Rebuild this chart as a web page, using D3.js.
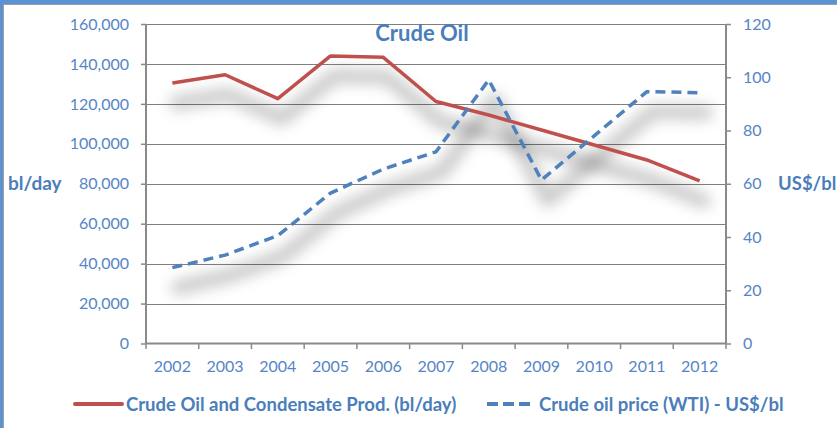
<!DOCTYPE html>
<html>
<head>
<meta charset="utf-8">
<script src="https://cdn.jsdelivr.net/npm/d3@7"></script>
<style>
  body { margin: 0; background: #fff; }
  svg text { font-family: Lato, "Open Sans", sans-serif; }
</style>
</head>
<body>
<div id="chart"></div>
<script>
var years = ['2002', '2003', '2004', '2005', '2006', '2007', '2008', '2009', '2010', '2011', '2012'];
var production = [130500, 134600, 122600, 144000, 143300, 121200, 114400, 106900, 99400, 91900, 81400];
var price = [28.5, 33.2, 40.5, 56.5, 65.5, 72, 99, 61.4, 78, 94.6, 94.2];
var leftTicks = [0, 20000, 40000, 60000, 80000, 100000, 120000, 140000, 160000];
var rightTicks = [0, 20, 40, 60, 80, 100, 120];

var W = 837, H = 428;
var blue = '#4a7ebb', tickBlue = '#5585c5', red = '#c0504d', grey = '#8a8a8a';

var svg = d3.select('#chart').append('svg')
    .attr('width', W)
    .attr('height', H);

// frame
svg.append('rect').attr('width', W).attr('height', H).attr('fill', '#fff');
svg.append('rect').attr('x', 0).attr('y', 0).attr('width', W).attr('height', 4).attr('fill', '#5a92d2');
svg.append('rect').attr('x', 0).attr('y', 0).attr('width', 3).attr('height', H).attr('fill', '#5a92d2');
svg.append('line').attr('x1', 3).attr('x2', W).attr('y1', 4.5).attr('y2', 4.5).attr('stroke', '#a0a0a0');
svg.append('line').attr('x1', 3.5).attr('x2', 3.5).attr('y1', 4).attr('y2', H).attr('stroke', '#a0a0a0');

var defs = svg.append('defs');
defs.append('filter')
    .attr('id', 'shadow')
    .attr('x', '-20%').attr('y', '-60%').attr('width', '140%').attr('height', '220%')
  .append('feGaussianBlur')
    .attr('stdDeviation', 7);

var x = d3.scaleBand().domain(years).range([146, 726]);
var yL = d3.scaleLinear().domain([0, 160000]).range([343.5, 24]);
var yR = d3.scaleLinear().domain([0, 120]).range([343.5, 24]);

var cx = (d) => x(d) + x.bandwidth() / 2;

// gridlines
svg.append('g')
  .selectAll('line')
  .data(leftTicks.slice(1))
  .enter().append('line')
    .attr('x1', 146).attr('x2', 726)
    .attr('y1', (d) => Math.round(yL(d)) + 0.5)
    .attr('y2', (d) => Math.round(yL(d)) + 0.5)
    .attr('stroke', '#7f7f7f')
    .attr('stroke-width', 1.2);

// left axis
var gl = svg.append('g')
    .attr('transform', 'translate(146,0)')
    .call(d3.axisLeft(yL).tickValues(leftTicks).tickSize(5).tickPadding(12).tickFormat(d3.format(',')));

// right axis
var gr = svg.append('g')
    .attr('transform', 'translate(726,0)')
    .call(d3.axisRight(yR).tickValues(rightTicks).tickSize(5).tickPadding(12));

// bottom axis
var gb = svg.append('g')
    .attr('transform', 'translate(0,343.5)')
    .call(d3.axisBottom(x).tickSize(0).tickPadding(17));

[gl, gr, gb].forEach((g) => {
  g.select('.domain').attr('stroke', grey).attr('stroke-width', 2);
  g.selectAll('.tick line').attr('stroke', grey).attr('stroke-width', 1.5);
  g.selectAll('.tick text').attr('fill', tickBlue).attr('font-size', 16).attr('font-family', 'Lato, sans-serif');
});
gl.select('.domain').attr('d', 'M0,24V343.5');
gr.select('.domain').attr('d', 'M0,24V343.5');
gb.select('.domain').attr('d', 'M146,0H726');

// bottom boundary ticks
svg.append('g')
  .selectAll('line')
  .data(years.concat(['end']))
  .enter().append('line')
    .attr('x1', (d, i) => i < years.length ? x(d) : x(years[years.length - 1]) + x.bandwidth())
    .attr('x2', (d, i) => i < years.length ? x(d) : x(years[years.length - 1]) + x.bandwidth())
    .attr('y1', 343.5).attr('y2', 349)
    .attr('stroke', grey).attr('stroke-width', 1.5);

var lineL = d3.line().x((d, i) => cx(years[i])).y((d) => yL(d));
var lineR = d3.line().x((d, i) => cx(years[i])).y((d) => yR(d));

// shadows
svg.append('path')
    .datum(production)
    .attr('d', lineL)
    .attr('transform', 'translate(4,20)')
    .attr('fill', 'none')
    .attr('stroke', '#000')
    .attr('stroke-opacity', 0.2)
    .attr('stroke-width', 15)
    .attr('stroke-linecap', 'round')
    .attr('stroke-linejoin', 'round')
    .attr('filter', 'url(#shadow)');

svg.append('path')
    .datum(price)
    .attr('d', lineR)
    .attr('transform', 'translate(6,20)')
    .attr('fill', 'none')
    .attr('stroke', '#000')
    .attr('stroke-opacity', 0.2)
    .attr('stroke-width', 15)
    .attr('stroke-linecap', 'round')
    .attr('stroke-linejoin', 'round')
    .attr('filter', 'url(#shadow)');

// lines
svg.append('path')
    .datum(production)
    .attr('d', lineL)
    .attr('fill', 'none')
    .attr('stroke', red)
    .attr('stroke-width', 3.5)
    .attr('stroke-linejoin', 'round');

svg.append('path')
    .datum(price)
    .attr('d', lineR)
    .attr('fill', 'none')
    .attr('stroke', '#4f81bd')
    .attr('stroke-width', 3.5)
    .attr('stroke-dasharray', '10,6')
    .attr('stroke-linejoin', 'round');

// title
svg.append('text')
    .attr('x', 422).attr('y', 41)
    .attr('text-anchor', 'middle')
    .attr('font-size', 22).attr('font-weight', 'bold')
    .attr('fill', blue)
    .text('Crude Oil');

// axis titles
svg.append('text')
    .attr('x', 8).attr('y', 190)
    .attr('font-size', 19).attr('font-weight', 'bold')
    .attr('fill', blue)
    .text('bl/day');

svg.append('text')
    .attr('x', 778).attr('y', 190)
    .attr('font-size', 18.5).attr('font-weight', 'bold')
    .attr('fill', blue)
    .text('US$/bl');

// legend
var legend = svg.append('g');
legend.append('line')
    .attr('x1', 75).attr('x2', 122).attr('y1', 404).attr('y2', 404)
    .attr('stroke', red).attr('stroke-width', 4).attr('stroke-linecap', 'round');
legend.append('text')
    .attr('x', 126).attr('y', 411)
    .attr('font-size', 18.5).attr('font-weight', 'bold')
    .attr('fill', blue)
    .text('Crude Oil and Condensate Prod. (bl/day)');
legend.append('line')
    .attr('x1', 487).attr('x2', 530).attr('y1', 404).attr('y2', 404)
    .attr('stroke', '#4f81bd').attr('stroke-width', 4)
    .attr('stroke-dasharray', '11,5');
legend.append('text')
    .attr('x', 539).attr('y', 411)
    .attr('font-size', 18.5).attr('font-weight', 'bold')
    .attr('fill', blue)
    .text('Crude oil price (WTI) - US$/bl');
</script>
</body>
</html>
